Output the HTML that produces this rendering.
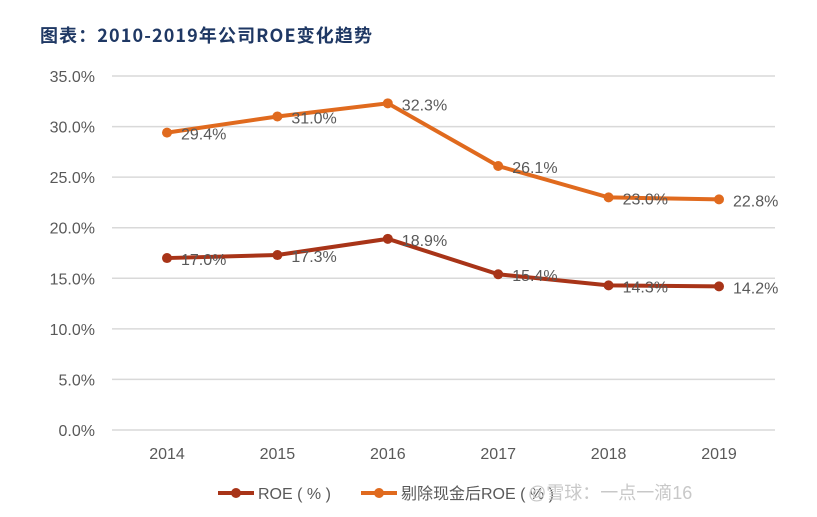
<!DOCTYPE html>
<html><head><meta charset="utf-8"><style>
body{margin:0;background:#fff;}
svg{display:block;font-family:"Liberation Sans","Noto Sans CJK SC",sans-serif;}
</style></head><body>
<svg width="817" height="517" id="c">
<text x="40" y="42" font-size="18" font-weight="bold" fill="#1f3864" font-family="'Noto Sans CJK SC',sans-serif" textLength="332">图表：2010-2019年公司ROE变化趋势</text>
<g id="grid"></g><g id="marks"></g><g id="legend"></g>
</svg>
<script>
const years=["2014","2015","2016","2017","2018","2019"];
const roe=[17.0,17.3,18.9,15.4,14.3,14.2];
const adjRoe=[29.4,31.0,32.3,26.1,23.0,22.8];
const yTicks=[0,5,10,15,20,25,30,35];
const NS="http://www.w3.org/2000/svg";
const X=i=>167+i*110.4, Y=v=>430-v*10.114;
function el(t,a,p){const e=document.createElementNS(NS,t);for(const k in a)e.setAttribute(k,a[k]);p.appendChild(e);return e;}
const g=document.getElementById('grid'),m=document.getElementById('marks'),lg=document.getElementById('legend');
yTicks.forEach(v=>{
 const l=el('line',{x1:112,x2:775,y1:Y(v),y2:Y(v),stroke:'#d9d9d9','stroke-width':1.5},g);
 
 
 const t=el('text',{x:95,y:Y(v)+6,'text-anchor':'end','font-size':16,fill:'#595959'},g);
 t.textContent=v.toFixed(1)+'%';
 
 
});
years.forEach((y,i)=>{
 const t=el('text',{x:X(i),y:459,'text-anchor':'middle','font-size':16,fill:'#595959'},g);
 t.textContent=y;
 
 
});
function series(vals,color,name){
 const p=el('polyline',{points:vals.map((v,i)=>X(i)+','+Y(v)).join(' '),fill:'none',stroke:color,'stroke-width':4},m);
 
 
 vals.forEach((v,i)=>{
  const c=el('circle',{cx:X(i),cy:Y(v),r:5,fill:color},m);
  
  
  const t=el('text',{x:X(i)+14,y:Y(v)+7,'font-size':16,fill:'#595959'},m);
  t.textContent=v.toFixed(1)+'%';
  
  
 });
}
series(adjRoe,'#e06a1e','adjusted-roe');
series(roe,'#a83418','roe');
function legendItem(x,color,label,name){
 const l=el('line',{x1:x,x2:x+36,y1:493,y2:493,stroke:color,'stroke-width':4},lg);
 
 
 const c=el('circle',{cx:x+18,cy:493,r:5,fill:color},lg);
 
 
 const t=el('text',{x:x+40,y:499,'font-size':16,fill:'#595959'},lg);
 t.textContent=label;
 
 
}
legendItem(218,'#a83418','ROE ( % )','roe');
legendItem(361,'#e06a1e','剔除现金后ROE ( % )','adjusted-roe');
const w=el('text',{x:528,y:499,'font-size':18,fill:'#c8c8c8'},lg);
w.textContent='@雪球：一点一滴16';


</script>
</body></html>
